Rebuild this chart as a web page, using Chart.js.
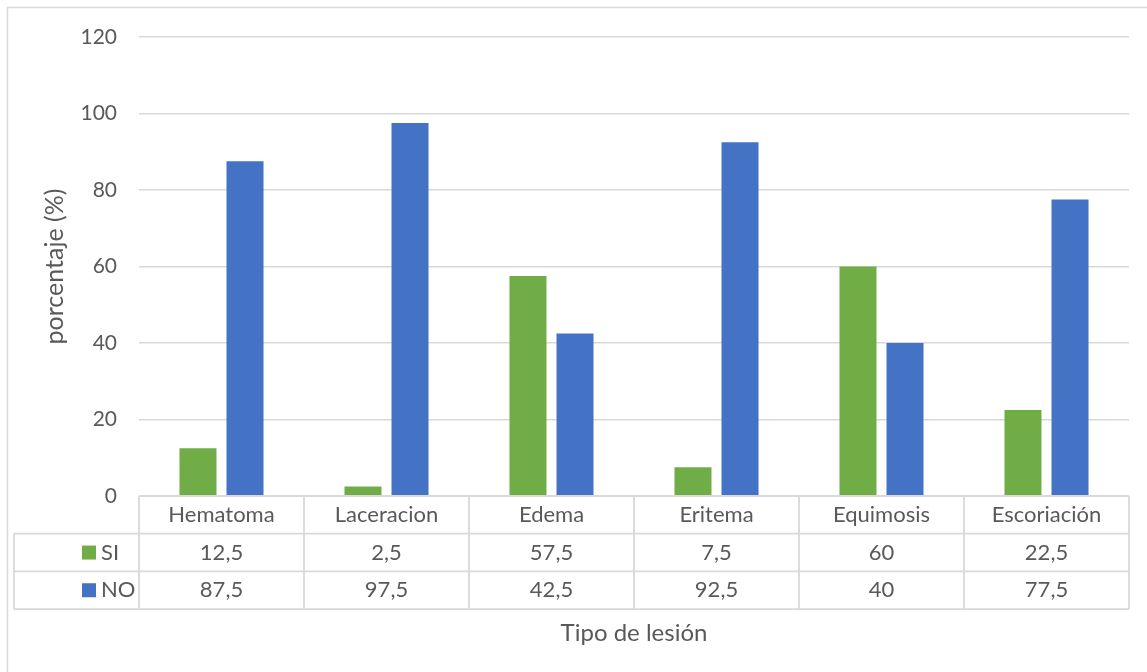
<!DOCTYPE html>
<html>
<head>
<meta charset="utf-8">
<script src="https://cdn.jsdelivr.net/npm/chart.js@4/dist/chart.umd.min.js"></script>
<style>
  html, body { margin: 0; padding: 0; background: #ffffff; }
  #wrap { position: relative; width: 1147px; height: 672px; }
</style>
</head>
<body>
<div id="wrap"><canvas id="c" width="1147" height="672"></canvas></div>
<script>
const categories = ["Hematoma", "Laceracion", "Edema", "Eritema", "Equimosis", "Escoriación"];
const siValues = [12.5, 2.5, 57.5, 7.5, 60, 22.5];
const noValues = [87.5, 97.5, 42.5, 92.5, 40, 77.5];
const siLabels = ["12,5", "2,5", "57,5", "7,5", "60", "22,5"];
const noLabels = ["87,5", "97,5", "42,5", "92,5", "40", "77,5"];
const seriesNames = ["SI", "NO"];
const yTicks = [0, 20, 40, 60, 80, 100, 120];

const FONT = "Lato, 'Open Sans', sans-serif";
const TEXT = "#595959";
const GRID = "#D9D9D9";
const GREEN = "#70AD47";
const BLUE = "#4472C4";

const tablePlugin = {
  id: "dataTable",
  beforeDraw(chart) {
    const ctx = chart.ctx;
    ctx.save();
    ctx.strokeStyle = GRID;
    ctx.lineWidth = 1.5;
    ctx.beginPath();
    ctx.moveTo(7.5, 700);
    ctx.lineTo(7.5, 7.5);
    ctx.lineTo(1200, 7.5);
    ctx.stroke();
    ctx.restore();
  },
  afterDraw(chart) {
    const ctx = chart.ctx;
    const x = chart.scales.x;
    const area = chart.chartArea;
    const rowH = 37.7;
    const y0 = area.bottom;
    const y1 = y0 + rowH, y2 = y1 + rowH, y3 = y2 + rowH;
    const leftX = 14;
    const n = categories.length;
    const half = (x.getPixelForValue(1) - x.getPixelForValue(0)) / 2;
    ctx.save();
    ctx.strokeStyle = GRID;
    ctx.lineWidth = 1.8;
    ctx.beginPath();
    ctx.moveTo(area.left, y0); ctx.lineTo(area.right, y0);
    [y1, y2, y3].forEach(yy => { ctx.moveTo(leftX, yy); ctx.lineTo(area.right, yy); });
    ctx.moveTo(leftX, y1); ctx.lineTo(leftX, y3);
    for (let i = 0; i <= n; i++) {
      const bx = i < n ? x.getPixelForValue(i) - half : x.getPixelForValue(n - 1) + half;
      ctx.moveTo(bx, y0); ctx.lineTo(bx, y3);
    }
    ctx.stroke();

    ctx.fillStyle = TEXT;
    ctx.font = "22px " + FONT;
    ctx.textAlign = "center";
    ctx.textBaseline = "middle";
    for (let i = 0; i < n; i++) {
      const cx = x.getPixelForValue(i);
      ctx.fillText(categories[i], cx, (y0 + y1) / 2);
      ctx.fillText(siLabels[i], cx, (y1 + y2) / 2);
      ctx.fillText(noLabels[i], cx, (y2 + y3) / 2);
    }
    // legend keys
    const colors = [GREEN, BLUE];
    const rows = [(y1 + y2) / 2, (y2 + y3) / 2];
    for (let r = 0; r < 2; r++) {
      ctx.fillStyle = colors[r];
      ctx.fillRect(82, rows[r] - 7, 14, 14);
      ctx.fillStyle = TEXT;
      ctx.textAlign = "left";
      ctx.fillText(seriesNames[r], 101, rows[r]);
    }
    // x axis title
    ctx.textAlign = "center";
    ctx.font = "24px " + FONT;
    ctx.fillText("Tipo de lesión", (area.left + area.right) / 2, 633);
    ctx.restore();
  }
};

new Chart(document.getElementById("c"), {
  type: "bar",
  data: {
    labels: categories,
    datasets: [
      { label: seriesNames[0], data: siValues, backgroundColor: GREEN, categoryPercentage: 0.57, barPercentage: 0.787 },
      { label: seriesNames[1], data: noValues, backgroundColor: BLUE, categoryPercentage: 0.57, barPercentage: 0.787 }
    ]
  },
  options: {
    responsive: false,
    animation: false,
    devicePixelRatio: 1,
    layout: { padding: { left: 0, top: 37, right: 18, bottom: 176 } },
    plugins: { legend: { display: false }, tooltip: { enabled: false } },
    scales: {
      x: { display: false },
      y: {
        min: 0, max: 120,
        afterFit(scale) { scale.width = 139; },
        afterBuildTicks(scale) { scale.ticks = yTicks.map(v => ({ value: v })); },
        border: { display: false },
        grid: { color: GRID, lineWidth: 1.5, drawTicks: false },
        ticks: { color: TEXT, padding: 22, font: { family: FONT, size: 21 } },
        title: {
          display: true, text: "porcentaje (%)", color: TEXT,
          font: { family: FONT, size: 25 }, padding: { top: 40, bottom: 0 }
        }
      }
    }
  },
  plugins: [tablePlugin]
});
</script>
</body>
</html>
